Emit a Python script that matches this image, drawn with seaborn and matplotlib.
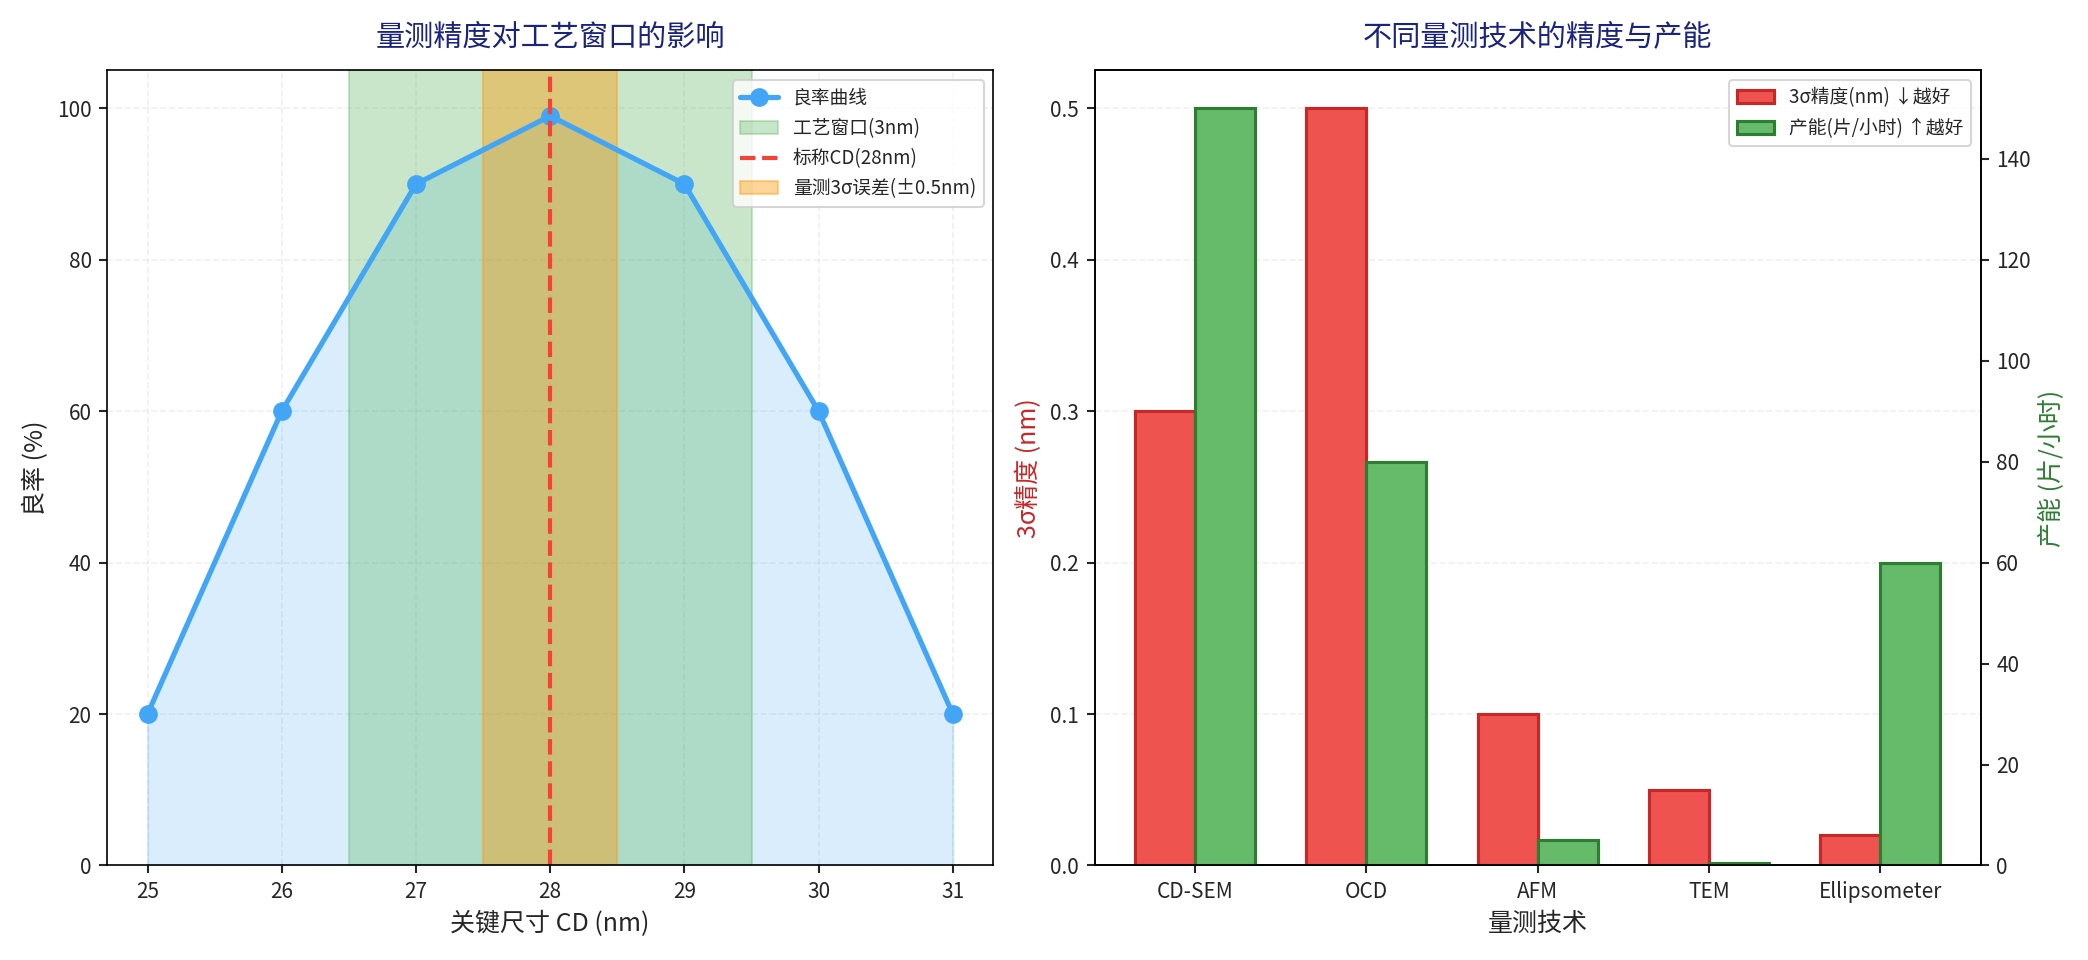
"""
Metrology precision vs process window, and tool precision / throughput
"""

import matplotlib
matplotlib.use('Agg')
import matplotlib.pyplot as plt
import seaborn as sns
import numpy as np
import pandas as pd

sns.set_style("white")
plt.rcParams['font.family'] = ['Noto Sans CJK SC', 'DejaVu Sans']
plt.rcParams['axes.unicode_minus'] = False

# left panel data
cd_nm = [25, 26, 27, 28, 29, 30, 31]
yield_pct = [20, 60, 90, 99, 90, 60, 20]
nominal_cd = 28
window_lo, window_hi = 26.5, 29.5
err_lo, err_hi = 27.5, 28.5

# right panel data
techniques = ['CD-SEM', 'OCD', 'AFM', 'TEM', 'Ellipsometer']
precision_nm = [0.3, 0.5, 0.1, 0.05, 0.02]
throughput_wph = [150, 80, 5, 0.5, 60]

title_color = '#1A237E'

fig, (ax1, ax2) = plt.subplots(1, 2, figsize=(13.92, 6.4), dpi=150)

# yield curve
df = pd.DataFrame({'cd': cd_nm, 'yield': yield_pct})
ax1.fill_between(df['cd'], df['yield'], color='#42A5F5', alpha=0.2)
ax1.axvspan(window_lo, window_hi, color='#4CAF50', alpha=0.3, label='工艺窗口(3nm)')
ax1.axvspan(err_lo, err_hi, color='#FF9800', alpha=0.4, label='量测3σ误差(±0.5nm)')
sns.lineplot(data=df, x='cd', y='yield', ax=ax1, color='#42A5F5', linewidth=2.5,
             marker='o', markersize=9, markeredgewidth=0, label='良率曲线')
ax1.axvline(nominal_cd, color='#F44336', linestyle='--', linewidth=2, label='标称CD(28nm)')
ax1.set_ylim(0, 105)
ax1.set_xlabel('关键尺寸 CD (nm)', fontsize=12)
ax1.set_ylabel('良率 (%)', fontsize=12)
ax1.set_title('量测精度对工艺窗口的影响', fontsize=14, color=title_color, pad=12)
ax1.grid(True, linestyle='--', alpha=0.3)
handles, labels = ax1.get_legend_handles_labels()
order = [labels.index(l) for l in ['良率曲线', '工艺窗口(3nm)', '标称CD(28nm)', '量测3σ误差(±0.5nm)']]
ax1.legend([handles[i] for i in order], [labels[i] for i in order], loc='upper right', fontsize=9)

# precision / throughput bars
x = np.arange(len(techniques))
width = 0.35
ax3 = ax2.twinx()
b1 = ax2.bar(x - width / 2, precision_nm, width, color='#EF5350', edgecolor='#C62828',
             linewidth=1.5, label='3σ精度(nm) ↓越好')
b2 = ax3.bar(x + width / 2, throughput_wph, width, color='#66BB6A', edgecolor='#2E7D32',
             linewidth=1.5, label='产能(片/小时) ↑越好')
ax2.set_xticks(x)
ax2.set_xticklabels(techniques)
ax2.set_xlabel('量测技术', fontsize=12)
ax2.set_ylabel('3σ精度 (nm)', fontsize=12, color='#C62828')
ax3.set_ylabel('产能 (片/小时)', fontsize=12, color='#2E7D32')
ax2.set_title('不同量测技术的精度与产能', fontsize=14, color=title_color, pad=12)
ax2.grid(True, axis='y', linestyle='--', alpha=0.3)
ax2.set_axisbelow(True)
ax3.grid(False)
ax2.legend([b1, b2], [b1.get_label(), b2.get_label()], loc='upper right', fontsize=9)

for ax in (ax1, ax2, ax3):
    for s in ax.spines.values():
        s.set_color('black')
    ax.tick_params(length=4, width=1, direction='out')
ax1.xaxis.set_ticks_position('bottom')
ax1.yaxis.set_ticks_position('left')
ax2.xaxis.set_ticks_position('bottom')
ax2.yaxis.set_ticks_position('left')
ax3.yaxis.set_ticks_position('right')
ax3.tick_params(axis='y', which='both', left=False, labelleft=False)
ax3.minorticks_off()
ax2.minorticks_off()

plt.tight_layout()
plt.savefig('out.png', dpi=150)
plt.close()
